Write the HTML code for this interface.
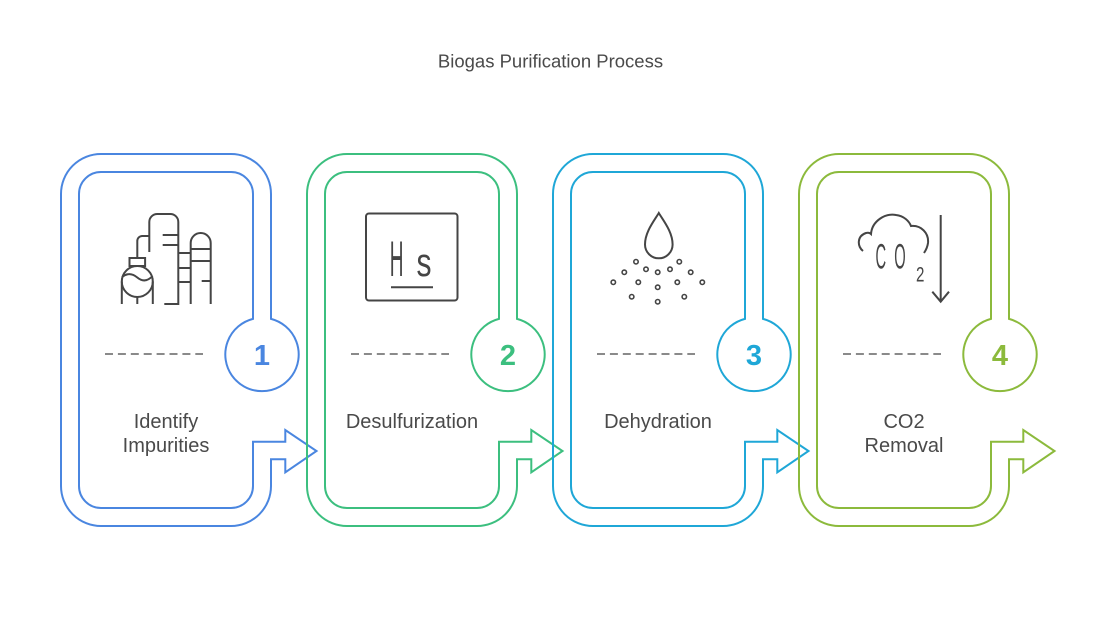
<!DOCTYPE html>
<html>
<head>
<meta charset="utf-8">
<style>
  html,body{margin:0;padding:0;background:#fff;}
  svg{display:block;}
  .lbl{font-family:"Liberation Sans",sans-serif;font-size:20px;fill:#4a4a4a;text-anchor:middle;}
  .num{font-family:"Liberation Sans",sans-serif;font-size:29px;font-weight:bold;text-anchor:middle;}
  .ic{fill:none;stroke:#454545;stroke-width:2;}
</style>
</head>
<body>
<svg width="1101" height="626" viewBox="0 0 1101 626" xmlns="http://www.w3.org/2000/svg">
  <rect width="1101" height="626" fill="#fff"/>
  <text x="550.5" y="67.5" font-family="Liberation Sans, sans-serif" font-size="18.5" fill="#4a4a4a" text-anchor="middle">Biogas Purification Process</text>

  <defs>
    <path id="card" d="M253 318.9 L253 194 A22 22 0 0 0 231 172 L101 172 A22 22 0 0 0 79 194 L79 486 A22 22 0 0 0 101 508 L231 508 A22 22 0 0 0 253 486 L253 441.7 L285.3 441.7 L285.3 430 L316.5 451 L285.3 472.3 L285.3 459.3 L271 459.3 L271 486 A40 40 0 0 1 231 526 L101 526 A40 40 0 0 1 61 486 L61 194 A40 40 0 0 1 101 154 L231 154 A40 40 0 0 1 271 194 L271 318.9 A36.7 36.7 0 1 1 253 318.9 Z"/>
  </defs>

  <!-- Card 1 -->
  <g>
    <use href="#card" fill="none" stroke="#4a86e0" stroke-width="2"/>
    <line x1="105" y1="354" x2="203" y2="354" stroke="#8a8a8a" stroke-width="2" stroke-dasharray="8 4.9"/>
    <text class="num" x="262" y="365" fill="#4a86e0">1</text>
    <text class="lbl" x="166" y="428">Identify</text>
    <text class="lbl" x="166" y="452">Impurities</text>
    <!-- icon -->
    <g class="ic">
      <path d="M149.3 252 L149.3 222 A8 8 0 0 1 157.3 214 L170.3 214 A8 8 0 0 1 178.3 222 L178.3 304 L164.3 304"/>
      <path d="M162.7 235 H178.3 M162.7 245 H178.3"/>
      <path d="M137.3 258 V241 A5 5 0 0 1 142.3 236 H149.3"/>
      <rect x="129.5" y="258" width="15.6" height="8"/>
      <circle cx="137.3" cy="281.5" r="15.5"/>
      <path d="M122 277 Q129.5 271 137.3 277.5 T152.6 276"/>
      <path d="M121.8 281.5 V304 M152.8 281.5 V304 M137.3 297 V304"/>
      <path d="M190.7 304 V243 A10 10 0 0 1 210.7 243 V304"/>
      <path d="M190.7 249 H210.7 M190.7 261 H210.7 M201.7 281 H210.7"/>
      <path d="M178.3 253 H190.7 M178.3 268 H190.7 M178.3 282 H190.7"/>
    </g>
  </g>

  <!-- Card 2 -->
  <g>
    <use href="#card" transform="translate(246,0)" fill="none" stroke="#3cbf7f" stroke-width="2"/>
    <line x1="351" y1="354" x2="449" y2="354" stroke="#8a8a8a" stroke-width="2" stroke-dasharray="8 4.9"/>
    <text class="num" x="508" y="365" fill="#3cbf7f">2</text>
    <text class="lbl" x="412" y="428">Desulfurization</text>
    <g>
      <rect x="366" y="213.5" width="91.5" height="87" rx="3" class="ic"/>
      <text transform="translate(389.8,276) scale(0.38,1)" font-family="Liberation Sans, sans-serif" font-size="50" fill="#454545">H</text>
      <text transform="translate(416.5,276) scale(0.75,1)" font-family="Liberation Sans, sans-serif" font-size="40" fill="#454545">s</text>
      <line x1="391" y1="287.3" x2="433" y2="287.3" stroke="#454545" stroke-width="2"/>
    </g>
  </g>

  <!-- Card 3 -->
  <g>
    <use href="#card" transform="translate(492,0)" fill="none" stroke="#1fa7d7" stroke-width="2"/>
    <line x1="597" y1="354" x2="695" y2="354" stroke="#8a8a8a" stroke-width="2" stroke-dasharray="8 4.9"/>
    <text class="num" x="754" y="365" fill="#1fa7d7">3</text>
    <text class="lbl" x="658" y="428">Dehydration</text>
    <g class="ic">
      <path d="M658.8 213 C654 221 645 232 645 244.5 A13.8 13.8 0 0 0 672.6 244.5 C672.6 232 663.6 221 658.8 213 Z"/>
    </g>
    <g fill="none" stroke="#454545" stroke-width="1.6">
      <circle cx="636" cy="261.7" r="2.2"/>
      <circle cx="679.3" cy="261.7" r="2.2"/>
      <circle cx="624.3" cy="272.3" r="2.2"/>
      <circle cx="646" cy="269.3" r="2.2"/>
      <circle cx="657.7" cy="272.3" r="2.2"/>
      <circle cx="670" cy="269.3" r="2.2"/>
      <circle cx="690.7" cy="272.3" r="2.2"/>
      <circle cx="613.3" cy="282.3" r="2.2"/>
      <circle cx="638.3" cy="282.3" r="2.2"/>
      <circle cx="657.7" cy="287.3" r="2.2"/>
      <circle cx="677.3" cy="282.3" r="2.2"/>
      <circle cx="702.3" cy="282.3" r="2.2"/>
      <circle cx="631.7" cy="296.7" r="2.2"/>
      <circle cx="684.3" cy="296.7" r="2.2"/>
      <circle cx="657.7" cy="301.7" r="2.2"/>
    </g>
  </g>

  <!-- Card 4 -->
  <g>
    <use href="#card" transform="translate(738,0)" fill="none" stroke="#8cba3c" stroke-width="2"/>
    <line x1="843" y1="354" x2="941" y2="354" stroke="#8a8a8a" stroke-width="2" stroke-dasharray="8 4.9"/>
    <text class="num" x="1000" y="365" fill="#8cba3c">4</text>
    <text class="lbl" x="904" y="428">CO2</text>
    <text class="lbl" x="904" y="452">Removal</text>
    <g class="ic">
      <path d="M863 251 C857 246 857 236 866 233 C868 232.5 870 233 871 234 C872 221 885 213 896 215 C904 216 909 221 911 226 C921 225 929 233 928 243 C927.5 247 926 250 924 253"/>
      <path d="M940.7 215 V301.7 M932.3 291.7 L940.7 301.7 L949 291.7"/>
    </g>
    <text transform="translate(875.5,268.3) scale(0.42,1)" font-family="Liberation Sans, sans-serif" font-size="35" fill="#454545">C</text>
    <text transform="translate(894.3,268.3) scale(0.42,1)" font-family="Liberation Sans, sans-serif" font-size="35" fill="#454545">O</text>
    <text transform="translate(916,281.7) scale(0.72,1)" font-family="Liberation Sans, sans-serif" font-size="21" fill="#454545">2</text>
  </g>
</svg>
</body>
</html>
